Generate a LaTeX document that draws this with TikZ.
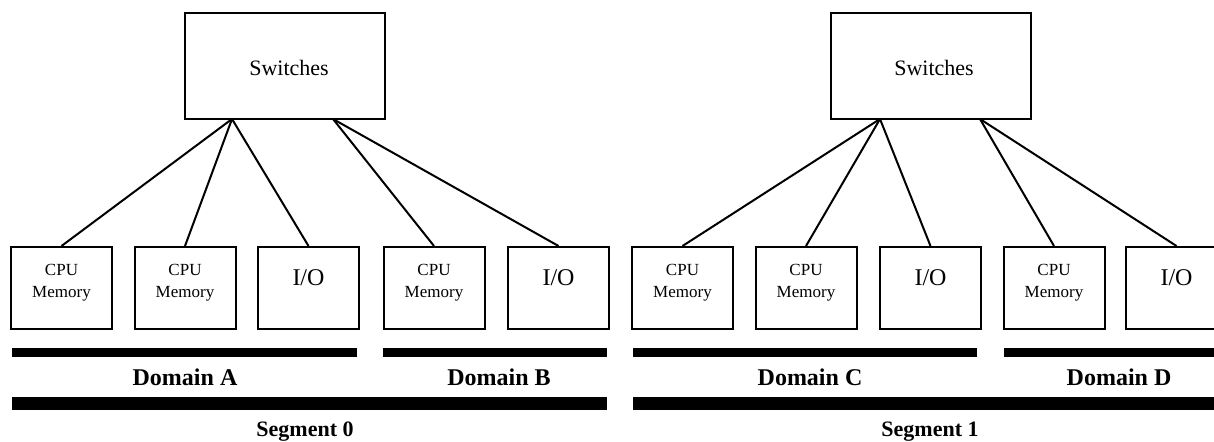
\documentclass[tikz,border=0pt]{standalone}
\usepackage{fontspec}
\setmainfont{Liberation Serif}
\tikzset{
  unit/.style={draw, line width=1pt, minimum width=50.5pt, minimum height=41pt, inner sep=0pt},
  switchbox/.style={draw, line width=1pt, minimum width=100pt, minimum height=53pt, inner sep=0pt},
  cpulbl/.style={font=\fontsize{8.5}{11}\selectfont, align=center, inner sep=0pt},
  iolbl/.style={font=\fontsize{12}{14}\selectfont, inner sep=0pt},
  swlbl/.style={font=\fontsize{11}{13}\selectfont, inner sep=0pt},
  tag/.style={font=\bfseries\fontsize{12}{14}\selectfont, inner sep=0pt},
  segtag/.style={font=\bfseries\fontsize{11}{13}\selectfont, inner sep=0pt},
  link/.style={line width=1pt}
}
\begin{document}
\begin{tikzpicture}[x=0.5pt,y=-0.5pt]
    \useasboundingbox (0,0) rectangle (1214,442);
    \clip (0,0) rectangle (1214,442);

    % left half
    \node[switchbox] (swL) at (285,66) {};
    \node[swlbl] (swLt) at (289,68) {Switches};
    \coordinate (swLa) at (232,119);
    \coordinate (swLb) at (333,119);

    \node[unit] (cpuA1) at (61.5,288) {};
    \node[cpulbl] (cpuA1t) at (61.5,283) {CPU\\Memory};
    \node[unit] (cpuA2) at (185,288) {};
    \node[cpulbl] (cpuA2t) at (185,283) {CPU\\Memory};
    \node[unit] (ioA) at (308.5,288) {};
    \node[iolbl] (ioAt) at (308.5,278) {I/O};
    \node[unit] (cpuB1) at (434,288) {};
    \node[cpulbl] (cpuB1t) at (434,283) {CPU\\Memory};
    \node[unit] (ioB) at (558.5,288) {};
    \node[iolbl] (ioBt) at (558.5,278) {I/O};

    \draw[link] (swLa) -- (cpuA1.north);
    \draw[link] (swLa) -- (cpuA2.north);
    \draw[link] (swLa) -- (ioA.north);
    \draw[link] (swLb) -- (cpuB1.north);
    \draw[link] (swLb) -- (ioB.north);

    \fill (12,348) rectangle (357,357);
    \fill (383,348) rectangle (607,357);
    \node[tag] (domA) at (185,377) {Domain A};
    \node[tag] (domB) at (499,377) {Domain B};
    \fill (12,397) rectangle (607,410);
    \node[segtag] (segZero) at (305,432) {Segment 0};

    % right half
    \node[switchbox] (swR) at (930.5,66) {};
    \node[swlbl] (swRt) at (934,68) {Switches};
    \coordinate (swRa) at (880,119);
    \coordinate (swRb) at (980,119);

    \node[unit] (cpuC1) at (682.5,288) {};
    \node[cpulbl] (cpuC1t) at (682.5,283) {CPU\\Memory};
    \node[unit] (cpuC2) at (806,288) {};
    \node[cpulbl] (cpuC2t) at (806,283) {CPU\\Memory};
    \node[unit] (ioC) at (930.5,288) {};
    \node[iolbl] (ioCt) at (930.5,278) {I/O};
    \node[unit] (cpuD1) at (1054,288) {};
    \node[cpulbl] (cpuD1t) at (1054,283) {CPU\\Memory};
    \node[unit] (ioD) at (1176.5,288) {};
    \node[iolbl] (ioDt) at (1176.5,278) {I/O};

    \draw[link] (swRa) -- (cpuC1.north);
    \draw[link] (swRa) -- (cpuC2.north);
    \draw[link] (swRa) -- (ioC.north);
    \draw[link] (swRb) -- (cpuD1.north);
    \draw[link] (swRb) -- (ioD.north);

    \fill (633,348) rectangle (977,357);
    \fill (1004,348) rectangle (1214,357);
    \node[tag] (domC) at (810,377) {Domain C};
    \node[tag] (domD) at (1119,377) {Domain D};
    \fill (633,397) rectangle (1214,410);
    \node[segtag] (segOne) at (930,432) {Segment 1};
\end{tikzpicture}
\end{document}
